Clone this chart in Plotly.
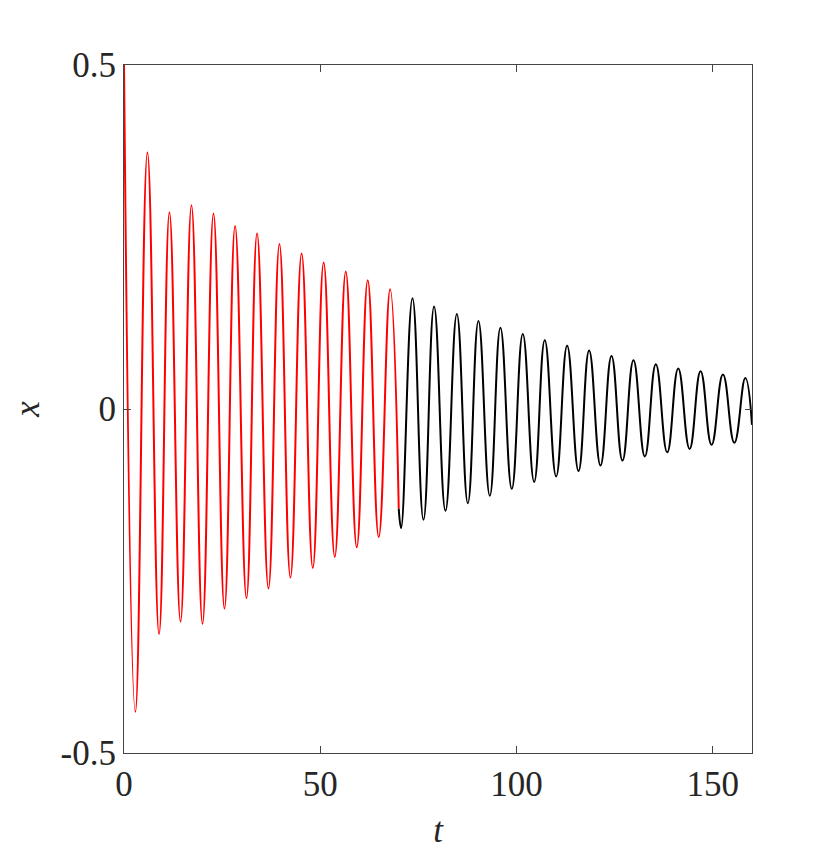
import plotly.graph_objects as go

# extrema (t, x); the red part runs to t = 70
t_red = [0, 2.9, 5.97, 8.93, 11.58, 14.4, 17.19, 20.0, 22.8, 25.6, 28.3, 31.2, 33.9,
         36.8, 39.6, 42.4, 45.25, 48.1, 50.87, 53.7, 56.5, 59.3, 62.1, 64.9, 67.8, 70.0]
x_red = [0.5, -0.440, 0.373, -0.327, 0.286, -0.309, 0.296, -0.312, 0.284, -0.290, 0.266,
         -0.275, 0.255, -0.261, 0.240, -0.245, 0.226, -0.231, 0.213, -0.215, 0.200,
         -0.201, 0.187, -0.186, 0.174, -0.145]

t_black = [70.0, 70.6, 73.5, 76.3, 79.0, 81.9, 84.8, 87.6, 90.3, 93.2, 95.9, 98.8, 101.6,
           104.5, 107.2, 110.1, 112.9, 115.8, 118.5, 121.4, 124.2, 127.0, 129.8, 132.7,
           135.5, 138.4, 141.2, 144.1, 146.9, 149.7, 152.6, 155.5, 158.3, 160.0]
x_black = [-0.145, -0.173, 0.161, -0.161, 0.149, -0.148, 0.138, -0.137, 0.128, -0.126,
           0.118, -0.116, 0.109, -0.106, 0.100, -0.098, 0.092, -0.090, 0.085, -0.082,
           0.077, -0.075, 0.071, -0.069, 0.065, -0.063, 0.059, -0.058, 0.055, -0.052,
           0.050, -0.049, 0.045, -0.023]

x_ticks = [0, 50, 100, 150]
y_ticks = [-0.5, 0, 0.5]
y_tick_text = ["-0.5", "0", "0.5"]

font = "Liberation Serif"
text_color = "#262626"
axis_color = "#444444"

fig = go.Figure()
fig.add_trace(go.Scatter(x=t_red, y=x_red, mode="lines",
                         line=dict(color="#ff0000", width=2, shape="spline", smoothing=1.3),
                         showlegend=False))
fig.add_trace(go.Scatter(x=t_black, y=x_black, mode="lines",
                         line=dict(color="#000000", width=2, shape="spline", smoothing=1.3),
                         showlegend=False))

axis_common = dict(showline=True, linecolor=axis_color, linewidth=1, mirror="allticks",
                   ticks="inside", ticklen=7, tickcolor=axis_color, showgrid=False,
                   zeroline=False, tickfont=dict(family=font, size=35, color=text_color))

fig.update_xaxes(range=[0, 160], tickvals=x_ticks,
                 title=dict(text="<i>t</i>", font=dict(family=font, size=35, color=text_color),
                            standoff=14),
                 **axis_common)
fig.update_yaxes(range=[-0.5, 0.5], tickvals=y_ticks, ticktext=y_tick_text,
                 title=dict(text="<i>x</i>", font=dict(family=font, size=35, color=text_color),
                            standoff=12),
                 **axis_common)

# the page body adds an 8px offset, so margins are shifted to compensate
fig.update_layout(width=830, height=857, paper_bgcolor="white", plot_bgcolor="white",
                  margin=dict(l=116, r=86, t=57, b=112))

fig.write_html("out.html")
